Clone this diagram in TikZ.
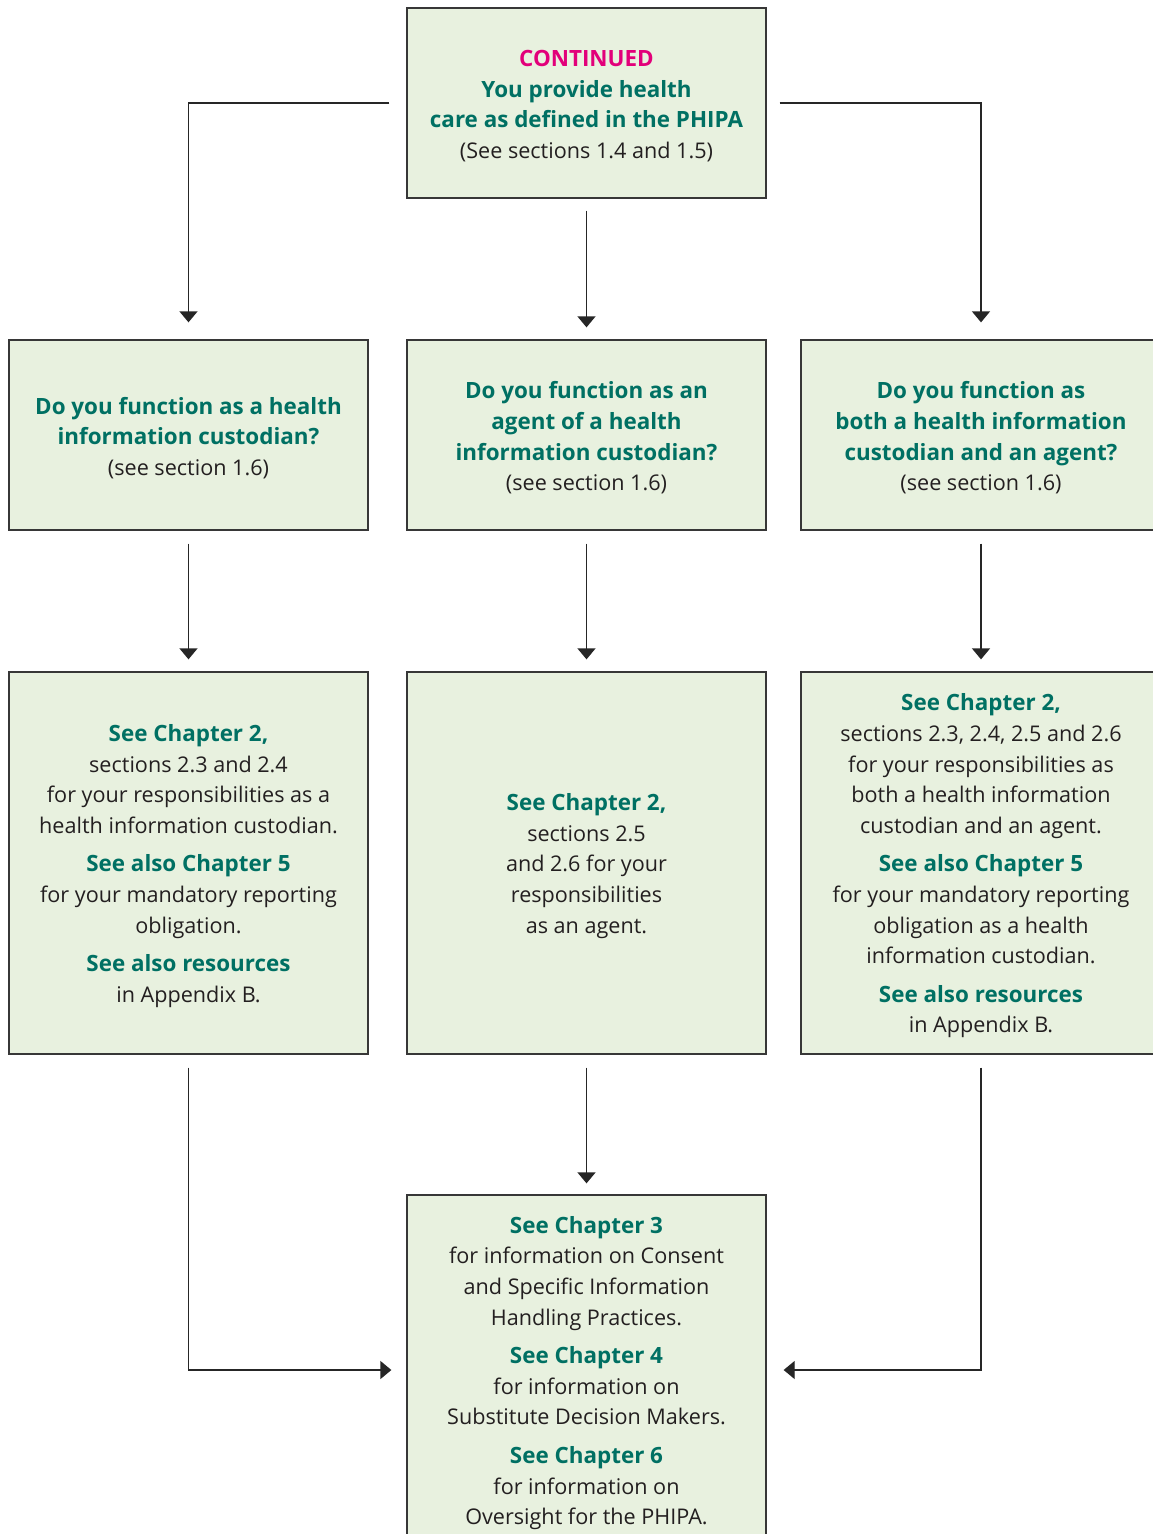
\documentclass[tikz,border=0pt]{standalone}
\usepackage{fontspec}
\setmainfont{Open Sans}
\usetikzlibrary{arrows.meta}
\definecolor{teal}{RGB}{0,112,99}
\definecolor{pink}{RGB}{226,0,122}
\definecolor{boxfill}{RGB}{232,241,223}
\definecolor{boxline}{RGB}{55,55,55}
\definecolor{txt}{RGB}{35,31,32}
\newcommand{\hd}[1]{{\fontsize{22.4}{30.6}\selectfont\bfseries\color{teal}#1}}
\tikzset{
  box/.style={draw=boxline, line width=1.3pt, fill=boxfill, inner sep=0pt,
    minimum width=359pt, minimum height=190pt},
  txtnode/.style={inner sep=0pt, align=center, text=txt, yshift=-3pt,
    font=\fontsize{21.6}{30.6}\selectfont},
  arr/.style={draw=black!85, line width=1.3pt, -{Triangle[width=18pt,length=11pt]}}
}
\begin{document}
\begin{tikzpicture}[x=1pt,y=-1pt]
\useasboundingbox (0,0) rectangle (1153,1534);
\clip (0,0) rectangle (1153,1534);
\fill[white] (0,0) rectangle (1153,1534);
% boxes
\node[box] (top) at (586.5,103) {};
\node[box] (hic) at (188.5,435) {};
\node[box] (ag) at (586.5,435) {};
\node[box, minimum width=360pt] (both) at (981,435) {};
\node[box, minimum height=382pt] (c2l) at (188.5,863) {};
\node[box, minimum height=382pt] (c2m) at (586.5,863) {};
\node[box, minimum height=382pt, minimum width=360pt] (c2r) at (981,863) {};
\node[box, minimum height=350pt] (fin) at (586.5,1370) {};
% texts
\node[txtnode] (topt) at (top.center) {{\fontsize{22.4}{30.6}\selectfont\bfseries\color{pink}CONTINUED}\\
  \hd{You provide health}\\ \hd{care as defined in the PHIPA}\\ (See sections 1.4 and 1.5)};
\node[txtnode] (hict) at (hic.center) {\hd{Do you function as a health}\\ \hd{information custodian?}\\ (see section 1.6)};
\node[txtnode] (agt) at (ag.center) {\hd{Do you function as an}\\ \hd{agent of a health}\\ \hd{information custodian?}\\ (see section 1.6)};
\node[txtnode] (botht) at (both.center) {\hd{Do you function as}\\ \hd{both a health information}\\ \hd{custodian and an agent?}\\ (see section 1.6)};
\node[txtnode] (c2lt) at (c2l.center) {\hd{See Chapter 2,}\\ sections 2.3 and 2.4\\ for your responsibilities as a\\ health information custodian.\\[8pt]
  \hd{See also Chapter 5}\\ for your mandatory reporting\\ obligation.\\[8pt]
  \hd{See also resources}\\ in Appendix B.};
\node[txtnode] (c2mt) at (c2m.center) {\hd{See Chapter 2,}\\ sections 2.5\\ and 2.6 for your\\ responsibilities\\ as an agent.};
\node[txtnode] (c2rt) at (c2r.center) {\hd{See Chapter 2,}\\ sections 2.3, 2.4, 2.5 and 2.6\\ for your responsibilities as\\ both a health information\\ custodian and an agent.\\[8pt]
  \hd{See also Chapter 5}\\ for your mandatory reporting\\ obligation as a health\\ information custodian.\\[8pt]
  \hd{See also resources}\\ in Appendix B.};
\node[txtnode] (fint) at (fin.center) {\hd{See Chapter 3}\\ for information on Consent\\ and Specific Information\\ Handling Practices.\\[8pt]
  \hd{See Chapter 4}\\ for information on\\ Substitute Decision Makers.\\[8pt]
  \hd{See Chapter 6}\\ for information on\\ Oversight for the PHIPA.};
% connectors
\draw[arr] ([xshift=-17pt]top.west) -| ([yshift=17pt]hic.north);
\draw[arr] ([xshift=13pt]top.east) -| ([yshift=17pt]both.north);
\draw[arr] ([yshift=-12pt]top.south) -- ([yshift=12pt]ag.north);
\draw[arr] ([yshift=-13pt]hic.south) -- ([yshift=12pt]c2l.north);
\draw[arr] ([yshift=-13pt]ag.south) -- ([yshift=12pt]c2m.north);
\draw[arr] ([yshift=-13pt]both.south) -- ([yshift=12pt]c2r.north);
\draw[arr] ([yshift=-13pt]c2m.south) -- ([yshift=11pt]fin.north);
\draw[arr] ([yshift=-13pt]c2l.south) |- ([xshift=-15pt]fin.west);
\draw[arr] ([yshift=-13pt]c2r.south) |- ([xshift=17pt]fin.east);
\end{tikzpicture}
\end{document}
